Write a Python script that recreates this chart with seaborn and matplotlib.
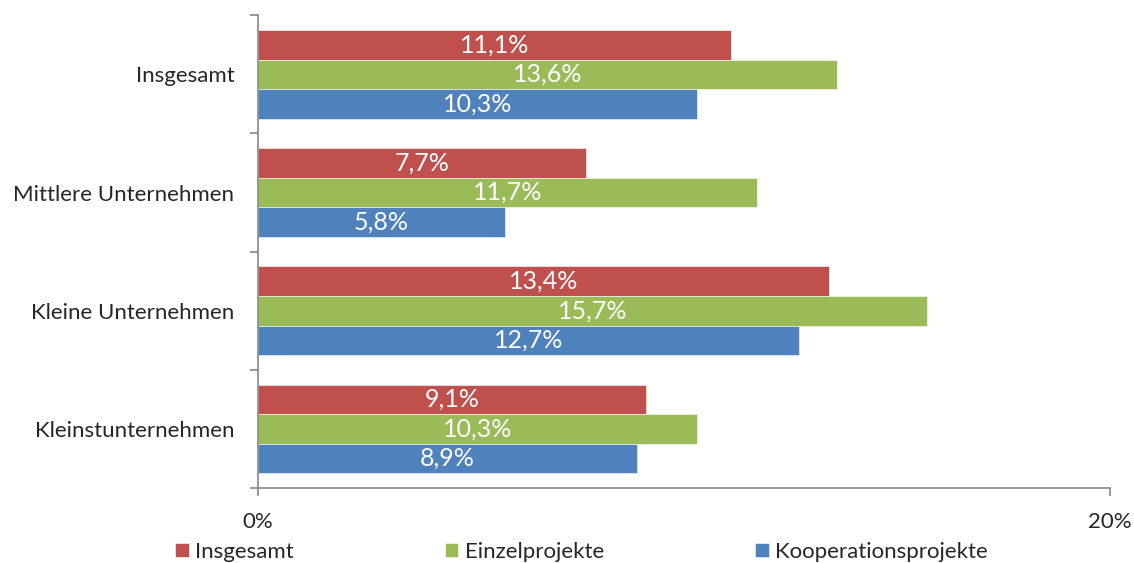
import matplotlib.pyplot as plt
import seaborn as sns
import pandas as pd

sns.set_style("white")
plt.rcParams['font.family'] = ['Lato', 'DejaVu Sans']

# Daten
kategorien = ['Insgesamt', 'Mittlere Unternehmen', 'Kleine Unternehmen', 'Kleinstunternehmen']
serien = ['Insgesamt', 'Einzelprojekte', 'Kooperationsprojekte']
insgesamt = [11.1, 7.7, 13.4, 9.1]
einzel = [13.6, 11.7, 15.7, 10.3]
kooperation = [10.3, 5.8, 12.7, 8.9]
farben = ['#C0504D', '#9BBB59', '#4F81BD']

data = pd.DataFrame({
    'Kategorie': kategorien * 3,
    'Serie': [serien[0]] * 4 + [serien[1]] * 4 + [serien[2]] * 4,
    'Wert': insgesamt + einzel + kooperation,
})

fig = plt.figure(figsize=(11.34, 5.63), dpi=100)
ax = fig.add_axes([0.2275, 0.133, 0.7515, 0.84])
sns.barplot(data=data, y='Kategorie', x='Wert', hue='Serie', order=kategorien,
            hue_order=serien, palette=farben, orient='h', width=0.75, saturation=1,
            edgecolor='white', linewidth=0.4, ax=ax, legend=True)

# Datenbeschriftungen
for cont in ax.containers:
    labels = [f"{v:.1f}%".replace('.', ',') for v in cont.datavalues]
    ax.bar_label(cont, labels=labels, label_type='center', color='white', fontsize=18)

ax.set_xlim(0, 20)
ax.set_ylim(3.5, -0.5)
ax.set_xticks([0, 20])
ax.set_xticklabels(['0%', '20%'], fontsize=16)
ax.set_yticks([-0.5, 0.5, 1.5, 2.5, 3.5])
ax.set_yticklabels([])
ax.set_yticks(range(4), minor=True)
ax.set_yticklabels(kategorien, minor=True, fontsize=16)
ax.tick_params(axis='y', which='minor', left=False, length=0, pad=17)
ax.tick_params(axis='y', which='major', left=True, direction='out', length=6,
               color='#868686', width=1.2)
ax.tick_params(axis='x', bottom=True, direction='out', length=6, color='#868686',
               width=1.2, pad=11)
ax.set_xlabel('')
ax.set_ylabel('')

for s in ['top', 'right']:
    ax.spines[s].set_visible(False)
for s in ['left', 'bottom']:
    ax.spines[s].set_color('#868686')
    ax.spines[s].set_linewidth(1.2)

handles, lbls = ax.get_legend_handles_labels()
ax.get_legend().remove()
fig.legend(handles, lbls, loc='lower center', bbox_to_anchor=(0.513, -0.033), ncol=3,
           frameon=False, fontsize=16, handlelength=0.6, handleheight=0.6,
           handletextpad=0.3, columnspacing=6.8)

plt.savefig('out.png', dpi=100)
plt.close()
